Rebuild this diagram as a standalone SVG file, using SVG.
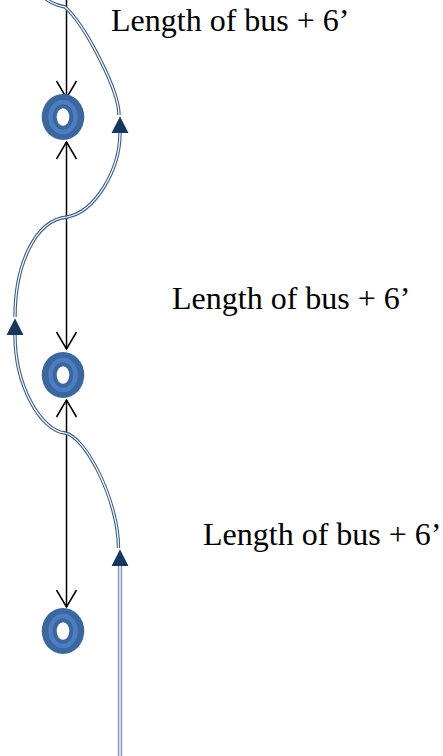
<svg xmlns="http://www.w3.org/2000/svg" width="443" height="756" viewBox="0 0 443 756">
<style>
.lbl{font-family:"Liberation Serif","Times New Roman",serif;font-size:32px;fill:#000}
.bk{fill:none;stroke:#000;stroke-width:1.5}
.bo{fill:none;stroke:#3c5d8c;stroke-width:3.4}
.bi{fill:none;stroke:#fff;stroke-width:1.2}
.so{fill:none;stroke:#8c9fbc;stroke-width:4.5}
.si{fill:none;stroke:#e3e8f0;stroke-width:1.6}
.ro{fill:#3b669e}
.rm{fill:none;stroke:#4b7ec0;stroke-width:4.5}
.rh{fill:#fff}
</style>
<defs>
<marker id="vh" markerUnits="userSpaceOnUse" markerWidth="24" markerHeight="26" viewBox="-20 -12 24 24" refX="0" refY="0" orient="auto-start-reverse" overflow="visible">
<path d="M-17,-10 L0,0 L-17,10" fill="none" stroke="#000" stroke-width="1.5"/>
</marker>
<marker id="tri" markerUnits="userSpaceOnUse" markerWidth="18" markerHeight="18" viewBox="0 -8 16 16" refX="0" refY="0" orient="auto" overflow="visible">
<path d="M0,-7.5 L15,0 L0,7.5 Z" fill="#17375e"/>
</marker>
</defs>
<g id="connectors">
<line class="bk" x1="66.5" y1="0" x2="66.5" y2="98" marker-end="url(#vh)"/>
<line class="bk" x1="66.5" y1="142" x2="66.5" y2="349" marker-start="url(#vh)" marker-end="url(#vh)"/>
<line class="bk" x1="66.5" y1="400" x2="66.5" y2="607" marker-start="url(#vh)" marker-end="url(#vh)"/>
<path class="so" d="M120 756 L120 566" marker-end="url(#tri)"/>
<path class="si" d="M120 756 L120 566"/>
<path class="bo" d="M118.5 548 C118.5 500 85 436 65 433 C40 430 15 385 15 335" marker-end="url(#tri)"/>
<path class="bi" d="M118.5 548 C118.5 500 85 436 65 433 C40 430 15 385 15 335"/>
<path class="bo" d="M15 317 C15 265 35 220 67 217 C95 212 120 170 120 133" marker-end="url(#tri)"/>
<path class="bi" d="M15 317 C15 265 35 220 67 217 C95 212 120 170 120 133"/>
<path class="bo" d="M119 115 C119 90 85 25 65 7 C55 5 48 2 38 -8"/>
<path class="bi" d="M119 115 C119 90 85 25 65 7 C55 5 48 2 38 -8"/>
</g>
<g id="ring1">
<ellipse class="ro" cx="63" cy="117" rx="21.3" ry="23"/>
<ellipse class="rm" cx="63" cy="117" rx="12.5" ry="15"/>
<ellipse class="rh" cx="63" cy="117" rx="6.3" ry="8.7"/>
</g>
<g id="ring2">
<ellipse class="ro" cx="63" cy="375" rx="21.3" ry="23"/>
<ellipse class="rm" cx="63" cy="375" rx="12.5" ry="15"/>
<ellipse class="rh" cx="63" cy="375" rx="6.3" ry="8.7"/>
</g>
<g id="ring3">
<ellipse class="ro" cx="63" cy="631" rx="21.3" ry="23"/>
<ellipse class="rm" cx="63" cy="631" rx="12.5" ry="15"/>
<ellipse class="rh" cx="63" cy="631" rx="6.3" ry="8.7"/>
</g>
<g id="label1"><text class="lbl" x="111" y="31">Length of bus + 6’</text></g>
<g id="label2"><text class="lbl" x="172" y="309">Length of bus + 6’</text></g>
<g id="label3"><text class="lbl" x="203" y="545">Length of bus + 6’</text></g>
</svg>
